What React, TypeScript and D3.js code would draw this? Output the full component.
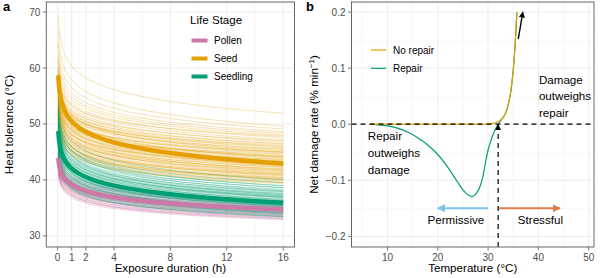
import * as d3 from 'd3';

// exposure time grid (h) used to trace each thermal death time curve
const durationHours = [0.05, 0.06, 0.075, 0.09, 0.11, 0.13, 0.16, 0.2, 0.25, 0.3, 0.4, 0.5, 0.65, 0.8, 1, 1.25, 1.5, 2, 2.5, 3, 4, 5, 6, 7, 8, 9, 10, 11, 12, 13, 14, 15, 16];

// per-species curves: [tolerance at shortest exposure, tolerance at 16 h]
const pollenCurves: [number, number][] = [
  [45.5, 36.2], [45.2, 36.0], [44.9, 35.8], [44.6, 35.6], [44.4, 35.4], [44.2, 35.3], [44.0, 35.1],
  [43.8, 35.0], [43.6, 34.8], [43.4, 34.7], [43.2, 34.5], [43.0, 34.4], [42.8, 34.2], [42.6, 34.0],
  [42.4, 33.9], [42.2, 33.7], [42.0, 33.5], [41.7, 33.3], [41.4, 33.1], [41.0, 32.9], [43.5, 34.2],
  [42.9, 33.6], [44.3, 34.9], [41.8, 33.0], [45.0, 35.7], [44.7, 35.2], [43.9, 34.6], [43.1, 34.1],
  [42.5, 33.8], [42.1, 33.4], [41.5, 33.2], [44.5, 35.0], [43.3, 34.9], [42.7, 34.5],
];
const seedCurves: [number, number][] = [
  [69.5, 51.9], [66.8, 49.6], [64.5, 49.1], [63.0, 48.6], [62.0, 48.3], [61.2, 48.0], [60.5, 47.6],
  [60.0, 47.2], [59.5, 46.8], [59.0, 46.4], [58.8, 46.0], [58.5, 45.7], [58.3, 45.4], [58.0, 45.2],
  [57.6, 44.9], [57.2, 44.6], [57.0, 44.3], [56.7, 44.1], [56.3, 43.8], [56.0, 43.6], [55.7, 43.4],
  [55.4, 43.1], [55.2, 42.9], [54.8, 42.6], [54.5, 42.4], [54.2, 42.2], [53.8, 41.9], [53.5, 41.7],
  [53.2, 41.5], [52.8, 41.2], [52.5, 41.0], [52.2, 40.8], [51.8, 40.5], [51.5, 40.3], [51.2, 40.0],
  [50.8, 39.8], [50.5, 39.6], [50.1, 39.3], [58.9, 45.0], [57.8, 44.0], [56.9, 43.3], [55.9, 42.5],
  [54.9, 41.8], [53.9, 41.3], [52.9, 40.7], [51.9, 40.1], [57.3, 45.9], [56.2, 44.8], [55.1, 44.2],
  [53.4, 43.0], [52.4, 42.0], [59.2, 47.8], [58.1, 47.0], [56.5, 46.2], [54.0, 44.5], [55.6, 45.0],
  [54.6, 43.6], [53.6, 42.8], [52.6, 41.6], [51.6, 41.1], [50.6, 40.4], [49.8, 39.5], [57.5, 46.5],
  [56.8, 45.5], [55.8, 44.0], [54.3, 43.3], [53.0, 42.3], [51.0, 40.9], [50.3, 40.2],
];
const seedlingCurves: [number, number][] = [
  [54.5, 40.0], [53.0, 39.5], [52.0, 39.0], [51.5, 38.6], [51.0, 38.3], [50.5, 38.0], [50.2, 37.8],
  [49.8, 37.6], [49.5, 37.4], [49.2, 37.2], [49.0, 37.0], [48.7, 36.8], [48.5, 36.6], [48.2, 36.5],
  [48.0, 36.3], [47.8, 36.2], [47.5, 36.0], [47.3, 35.9], [47.0, 35.7], [46.8, 35.6], [46.5, 35.4],
  [46.3, 35.3], [46.0, 35.1], [45.7, 34.9], [45.4, 34.7], [45.1, 34.5], [44.8, 34.3], [44.5, 34.1],
  [44.2, 33.9], [43.9, 33.7], [43.5, 33.5], [50.8, 36.9], [49.9, 36.4], [48.9, 35.8], [47.9, 35.2],
  [46.9, 34.6], [45.9, 34.0], [51.9, 37.3], [52.8, 38.1], [48.4, 36.0], [47.6, 35.5], [53.5, 38.9],
  [51.2, 37.9], [50.0, 37.1], [49.3, 36.9], [48.1, 36.1], [47.1, 35.4], [46.1, 34.8], [45.2, 34.2],
  [44.0, 33.4], [52.4, 38.6], [50.6, 37.5],
];

const stageNames = ['Pollen', 'Seed', 'Seedling'];
const stageColours = ['#CC79A7', '#E69F00', '#009E73'];
const stageMeans: [number, number][] = [[43.9, 34.7], [58.7, 42.9], [48.7, 35.9]];

const durationTicks = [0, 1, 2, 4, 8, 12, 16];
const durationMinor = [0.5, 1.5, 3, 6, 10, 14];
const toleranceTicks = [30, 40, 50, 60, 70];
const toleranceMinor = [35, 45, 55, 65];

// net damage rate vs temperature
const temperature = [6.5, 8, 10, 12, 14, 16, 18, 20, 22, 24, 25, 26, 26.8, 27.5, 28.4, 29, 29.5, 30, 30.5, 31, 31.5, 32, 32.5, 33, 33.5, 34, 34.5, 35, 35.4, 35.72];
const rateNoRepair = [0, 0, 0, 0, 0, 0, 0, 0, 0, 0.00002, 0.00003, 0.00005, 0.00007, 0.0001, 0.0002, 0.0003, 0.0004, 0.0006, 0.0009, 0.0016, 0.0025, 0.0046, 0.0076, 0.0126, 0.021, 0.035, 0.058, 0.097, 0.146, 0.2];
const rateRepair = [0, -0.001, -0.003, -0.007, -0.014, -0.024, -0.037, -0.054, -0.077, -0.104, -0.117, -0.126, -0.129, -0.125, -0.111, -0.092, -0.067, -0.046, -0.031, -0.018, -0.008, 0, 0.006, 0.012, 0.02, 0.034, 0.057, 0.096, 0.145, 0.2];
const thresholdTemp = 32;

const tempTicks = [10, 20, 30, 40, 50];
const tempMinor = [5, 15, 25, 35, 45];
const rateTicks = [-0.2, -0.1, 0, 0.1, 0.2];
const rateMinor = [-0.15, -0.05, 0.05, 0.15];

const FONT = '"Liberation Sans", Arial, Helvetica, sans-serif';
const GRID = '#EBEBEB';
const GRID_MINOR = '#F3F3F3';
const TICK_TEXT = '#4D4D4D';
const BORDER = '#666666';

const xA = d3.scaleLinear().domain([-0.8, 16.8]).range([46.3, 294.5]);
const yA = d3.scaleLinear().domain([28.0, 71.8]).range([247, 2]);
const xB = d3.scaleLinear().domain([2.85, 51.05]).range([351.5, 594]);
const yB = d3.scaleLinear().domain([-0.219, 0.218]).range([247, 2]);

const t0 = durationHours[0];
const t1 = durationHours[durationHours.length - 1];
// linear in log-time between the two end values
const tdtPoints = ([start, end]: [number, number]) =>
  durationHours.map((t) => [t, end + (start - end) * Math.log10(t1 / t) / Math.log10(t1 / t0)] as [number, number]);

const lineA = d3.line<[number, number]>().x((d) => xA(d[0])).y((d) => yA(d[1])).curve(d3.curveMonotoneX);
const lineB = d3.line<[number, number]>().x((d) => xB(d[0])).y((d) => yB(d[1])).curve(d3.curveMonotoneX);

function Frame({ x, y, xTicks, xMinor, yTicks, yMinor, yFmt }: any) {
  const [x0, x1] = x.range();
  const [y0, y1] = y.range();
  return (
    <g>
      {xMinor.map((v: number) => <line key={'xm' + v} x1={x(v)} x2={x(v)} y1={y0} y2={y1} stroke={GRID_MINOR} strokeWidth={0.6} />)}
      {yMinor.map((v: number) => <line key={'ym' + v} x1={x0} x2={x1} y1={y(v)} y2={y(v)} stroke={GRID_MINOR} strokeWidth={0.6} />)}
      {xTicks.map((v: number) => <line key={'xg' + v} x1={x(v)} x2={x(v)} y1={y0} y2={y1} stroke={GRID} strokeWidth={0.9} />)}
      {yTicks.map((v: number) => <line key={'yg' + v} x1={x0} x2={x1} y1={y(v)} y2={y(v)} stroke={GRID} strokeWidth={0.9} />)}
      {xTicks.map((v: number) => (
        <g key={'xt' + v}>
          <line x1={x(v)} x2={x(v)} y1={y0} y2={y0 + 3.5} stroke={BORDER} strokeWidth={0.9} />
          <text x={x(v)} y={y0 + 13.5} textAnchor="middle" fontSize={10} fill={TICK_TEXT}>{v}</text>
        </g>
      ))}
      {yTicks.map((v: number) => (
        <g key={'yt' + v}>
          <line x1={x0 - 3.5} x2={x0} y1={y(v)} y2={y(v)} stroke={BORDER} strokeWidth={0.9} />
          <text x={x0 - 6} y={y(v)} dy="0.35em" textAnchor="end" fontSize={10} fill={TICK_TEXT}>{yFmt(v)}</text>
        </g>
      ))}
    </g>
  );
}

const fmtRate = (v: number) => (v < 0 ? '\u2212' + Math.abs(v).toFixed(1) : v.toFixed(1));

export default function App() {
  const stageCurves = [pollenCurves, seedCurves, seedlingCurves];
  const noRepair = temperature.map((t, i) => [t, rateNoRepair[i]] as [number, number]);
  const repair = temperature.map((t, i) => [t, rateRepair[i]] as [number, number]);
  const [bx0, bx1] = xB.range();
  const [by0] = yB.range();

  return (
    <svg width={601} height={278} style={{ position: 'fixed', left: 0, top: 0, background: '#fff' }} fontFamily={FONT}>
      <defs>
        <marker id="tipBlack" viewBox="0 0 10 10" refX="9" refY="5" markerWidth="6" markerHeight="6" orient="auto-start-reverse" markerUnits="userSpaceOnUse">
          <path d="M0,0 L10,5 L0,10 z" fill="#000" />
        </marker>
        <marker id="tipBlue" viewBox="0 0 10 10" refX="9" refY="5" markerWidth="8" markerHeight="8" orient="auto" markerUnits="userSpaceOnUse">
          <path d="M0,0 L10,5 L0,10 z" fill="#7CC3E8" />
        </marker>
        <marker id="tipRed" viewBox="0 0 10 10" refX="9" refY="5" markerWidth="8" markerHeight="8" orient="auto" markerUnits="userSpaceOnUse">
          <path d="M0,0 L10,5 L0,10 z" fill="#DA7F4C" />
        </marker>
        <clipPath id="clipA"><rect x={46.3} y={2} width={248.2} height={245} /></clipPath>
        <clipPath id="clipB"><rect x={bx0} y={2} width={bx1 - bx0} height={245} /></clipPath>
      </defs>

      {/* panel a: heat tolerance over exposure time */}
      <Frame x={xA} y={yA} xTicks={durationTicks} xMinor={durationMinor} yTicks={toleranceTicks} yMinor={toleranceMinor} yFmt={(v: number) => v} />
      <g clipPath="url(#clipA)">
        {stageCurves.map((curves, s) =>
          curves.map((c, i) => (
            <path key={s + '-' + i} d={lineA(tdtPoints(c)) ?? ''} fill="none" stroke={stageColours[s]} strokeWidth={1} strokeOpacity={0.3} />
          ))
        )}
        {stageMeans.map((c, s) => (
          <path key={'mean' + s} d={lineA(tdtPoints(c)) ?? ''} fill="none" stroke={stageColours[s]} strokeWidth={4.5} />
        ))}
      </g>
      <rect x={46.3} y={2} width={248.2} height={245} fill="none" stroke={BORDER} strokeWidth={1} />

      <text x={190} y={24} fontSize={11.6} fill="#000">Life Stage</text>
      {stageNames.map((name, i) => (
        <g key={name} transform={`translate(0,${40.5 + i * 18})`}>
          <line x1={191.5} x2={207.5} y1={0} y2={0} stroke={stageColours[i]} strokeWidth={4} />
          <text x={214} y={0} dy="0.35em" fontSize={10} fill="#000">{name}</text>
        </g>
      ))}

      <text x={3} y={10.5} fontSize={13} fontWeight="bold">a</text>
      <text transform={`translate(12.5,${124.5}) rotate(-90)`} textAnchor="middle" fontSize={11.6}>Heat tolerance (°C)</text>
      <text x={(xA.range()[0] + xA.range()[1]) / 2} y={272} textAnchor="middle" fontSize={11.6}>Exposure duration (h)</text>

      {/* panel b: net damage rate */}
      <Frame x={xB} y={yB} xTicks={tempTicks} xMinor={tempMinor} yTicks={rateTicks} yMinor={rateMinor} yFmt={fmtRate} />
      <g clipPath="url(#clipB)">
        <path d={lineB(repair) ?? ''} fill="none" stroke="#009E73" strokeWidth={1.2} />
        <path d={lineB(noRepair) ?? ''} fill="none" stroke="#E69F00" strokeWidth={1.2} />
        <line x1={bx0} x2={bx1} y1={yB(0)} y2={yB(0)} stroke="#000" strokeWidth={1.2} strokeDasharray="5,4" />
      </g>
      <line x1={xB(thresholdTemp)} x2={xB(thresholdTemp)} y1={by0} y2={yB(0) + 5} stroke="#000" strokeWidth={1.2} strokeDasharray="5,4" />
      <line x1={xB(thresholdTemp)} x2={xB(thresholdTemp)} y1={yB(0) + 5} y2={yB(0) + 0.5} stroke="#000" strokeWidth={1.2} markerEnd="url(#tipBlack)" />
      <line x1={xB(36.0)} y1={yB(0.152)} x2={xB(36.9)} y2={yB(0.2)} stroke="#000" strokeWidth={1.4} markerEnd="url(#tipBlack)" />

      <line x1={xB(30)} x2={xB(20)} y1={yB(-0.15)} y2={yB(-0.15)} stroke="#7CC3E8" strokeWidth={2} markerEnd="url(#tipBlue)" />
      <line x1={xB(32.2)} x2={xB(44.3)} y1={yB(-0.15)} y2={yB(-0.15)} stroke="#DA7F4C" strokeWidth={2} markerEnd="url(#tipRed)" />
      <text x={xB(23.6)} y={yB(-0.171)} dy="0.35em" textAnchor="middle" fontSize={11.6}>Permissive</text>
      <text x={xB(40.4)} y={yB(-0.171)} dy="0.35em" textAnchor="middle" fontSize={11.6}>Stressful</text>

      {['Damage', 'outweighs', 'repair'].map((w, i) => (
        <text key={w} x={xB(40.1)} y={yB(0.05) + (i - 1) * 16.7} dy="0.35em" fontSize={11.6}>{w}</text>
      ))}
      {['Repair', 'outweighs', 'damage'].map((w, i) => (
        <text key={w} x={xB(6.1)} y={yB(-0.051) + (i - 1) * 16.7} dy="0.35em" fontSize={11.6}>{w}</text>
      ))}

      <line x1={371} x2={386} y1={50} y2={50} stroke="#E69F00" strokeWidth={1.2} />
      <text x={393} y={50} dy="0.35em" fontSize={10}>No repair</text>
      <line x1={371} x2={386} y1={68.3} y2={68.3} stroke="#009E73" strokeWidth={1.2} />
      <text x={393} y={68.3} dy="0.35em" fontSize={10}>Repair</text>

      <rect x={bx0} y={2} width={bx1 - bx0} height={245} fill="none" stroke={BORDER} strokeWidth={1} />

      <text x={306} y={10.5} fontSize={13} fontWeight="bold">b</text>
      <text transform={`translate(318,${124.5}) rotate(-90)`} textAnchor="middle" fontSize={11.6}>
        Net damage rate (% min<tspan dy="-4" fontSize={8}>{'\u22121'}</tspan><tspan dy="4">)</tspan>
      </text>
      <text x={(bx0 + bx1) / 2} y={272} textAnchor="middle" fontSize={11.6}>Temperature (°C)</text>
    </svg>
  );
}
